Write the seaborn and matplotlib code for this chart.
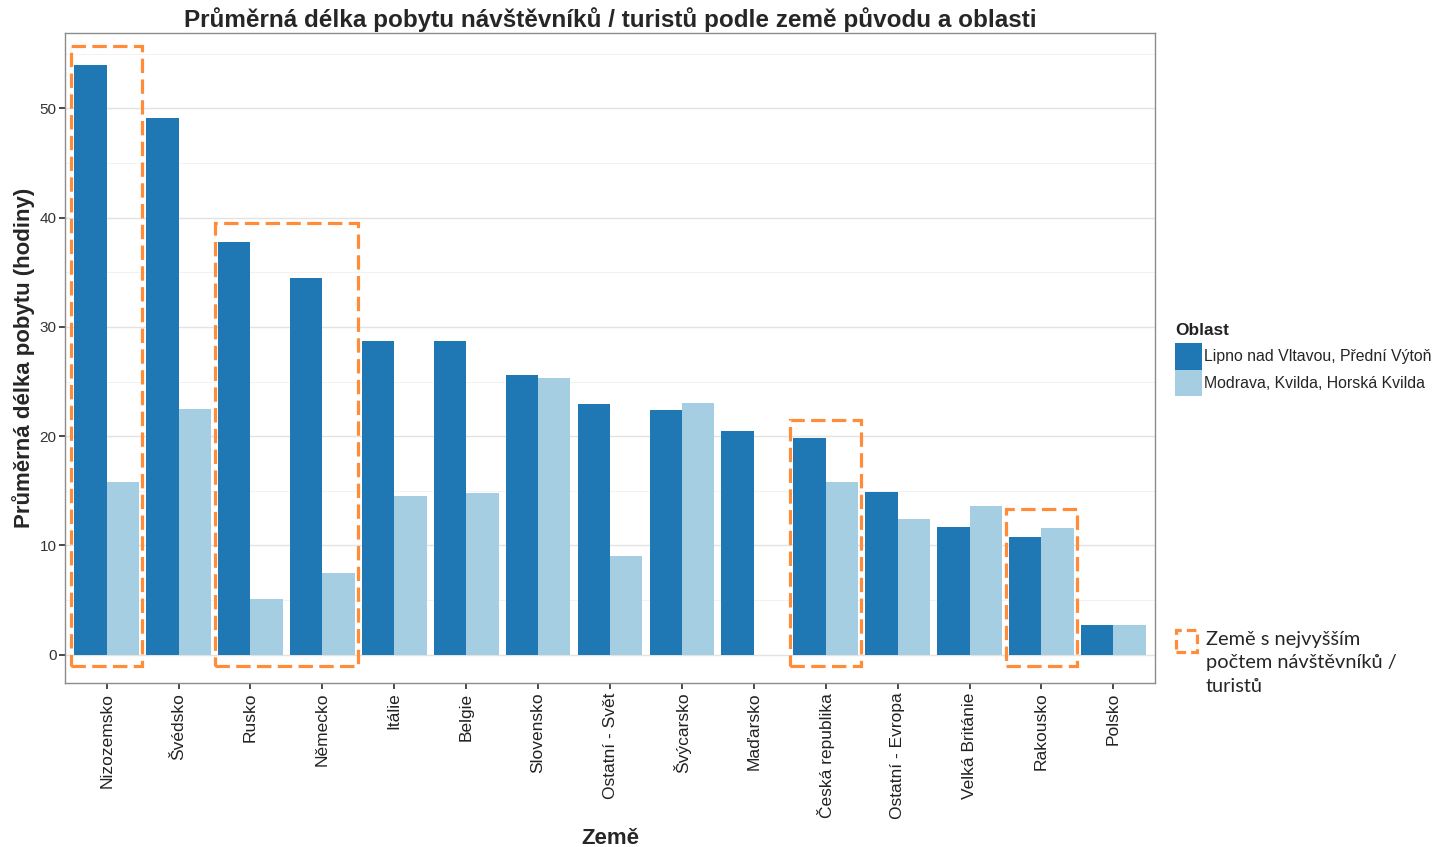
import matplotlib
matplotlib.use("Agg")
import matplotlib.pyplot as plt
import matplotlib.patches as mpatches
import numpy as np
import pandas as pd
import seaborn as sns

countries = ["Nizozemsko", "Švédsko", "Rusko", "Německo", "Itálie", "Belgie",
             "Slovensko", "Ostatní - Svět", "Švýcarsko", "Maďarsko",
             "Česká republika", "Ostatní - Evropa", "Velká Británie",
             "Rakousko", "Polsko"]
series_names = ["Lipno nad Vltavou, Přední Výtoň", "Modrava, Kvilda, Horská Kvilda"]
lipno = [54.0, 49.1, 37.8, 34.5, 28.7, 28.7, 25.6, 22.9, 22.4, 20.5, 19.8, 14.9, 11.7, 10.8, 2.7]
modrava = [15.8, 22.5, 5.1, 7.5, 14.5, 14.8, 25.3, 9.0, 23.0, np.nan, 15.8, 12.4, 13.6, 11.6, 2.7]
highlight_groups = [["Nizozemsko"], ["Rusko", "Německo"], ["Česká republika"], ["Rakousko"]]
yticks = [0, 10, 20, 30, 40, 50]

colors = ["#1F78B4", "#A6CEE3"]
orange = "#FF8C38"

df = pd.DataFrame({
    "Země": countries * 2,
    "Oblast": [series_names[0]] * len(countries) + [series_names[1]] * len(countries),
    "value": lipno + modrava,
})

sns.set_theme(style="white")
plt.rcParams["font.family"] = ["Liberation Sans", "DejaVu Sans"]

fig = plt.figure(figsize=(14.37, 8.47), dpi=100)
ax = fig.add_axes([0.0452, 0.1936, 0.7586, 0.7674])

# grid
ax.set_axisbelow(True)
ax.set_yticks(yticks)
ax.set_yticks([5, 15, 25, 35, 45, 55], minor=True)
ax.grid(True, which="major", color="#E3E3E3", linewidth=1.0)
ax.grid(True, which="minor", axis="y", color="#F0F0F0", linewidth=0.6)

sns.barplot(data=df, x="Země", y="value", hue="Oblast", order=countries,
            hue_order=series_names, palette=colors, width=0.9, saturation=1,
            ax=ax, legend=True, errorbar=None, linewidth=0, edgecolor="none")

ax.set_xlim(-0.58, len(countries) - 0.42)
ax.set_ylim(-2.6, 56.9)

# highlight rectangles
vals = dict(zip(countries, zip(lipno, modrava)))
for grp in highlight_groups:
    idx = [countries.index(c) for c in grp]
    top = np.nanmax([v for c in grp for v in vals[c]]) + 1.7
    x0 = min(idx) - 0.49
    x1 = max(idx) + 0.49
    rect = mpatches.Rectangle((x0, -1.0), x1 - x0, top + 1.0, fill=False,
                              edgecolor=orange, linewidth=2.3,
                              linestyle=(0, (4.5, 2)), zorder=5, clip_on=False)
    ax.add_patch(rect)

for s in ax.spines.values():
    s.set_color("#8C8C8C")
    s.set_linewidth(1.0)

ax.tick_params(axis="both", which="major", length=4, color="#333333", direction="out",
               bottom=True, left=True)
ax.tick_params(axis="y", which="minor", length=0)
ax.tick_params(axis="y", labelsize=11, labelcolor="#333333", pad=2)
ax.tick_params(axis="x", labelsize=12.5, labelcolor="#222222", pad=3)
plt.setp(ax.get_xticklabels(), rotation=90, va="top", ha="center")

ax.set_xlabel("Země", fontsize=16, fontweight="bold", labelpad=6)
ax.set_ylabel("Průměrná délka pobytu (hodiny)", fontsize=16, fontweight="bold", labelpad=3)
ax.set_title("Průměrná délka pobytu návštěvníků / turistů podle země původu a oblasti",
             fontsize=17.5, fontweight="bold", pad=4)

# legend 1
handles, labels = ax.get_legend_handles_labels()
if ax.legend_:
    ax.legend_.remove()
leg = fig.legend(handles, labels, loc="upper left",
                 bbox_to_anchor=(1172 / 1437, 1 - 340 / 847), frameon=False,
                 fontsize=11.4, handlelength=1.7, handleheight=2.2,
                 handletextpad=0.1, labelspacing=0.0, borderpad=0.2, borderaxespad=0)
for h in leg.legend_handles:
    h.set_edgecolor("none")
fig.text(1175 / 1437, 1 - 330 / 847, "Oblast", fontsize=12.4, fontweight="bold",
         va="center", ha="left", color="#222222")

# legend 2 (manual)
rect2 = mpatches.Rectangle((1176 / 1437, 1 - 652 / 847), 21 / 1437, 22 / 847,
                           transform=fig.transFigure, fill=False, edgecolor=orange,
                           linewidth=2.3, linestyle=(0, (3, 1.6)))
fig.patches.append(rect2)
fig.text(1206 / 1437, 1 - 631 / 847, "Země s nejvyšším\npočtem návštěvníků /\nturistů",
         fontsize=14.4, family=["Lato", "DejaVu Sans"], va="top", ha="left", linespacing=1.45)

fig.savefig("out.png", dpi=100)
